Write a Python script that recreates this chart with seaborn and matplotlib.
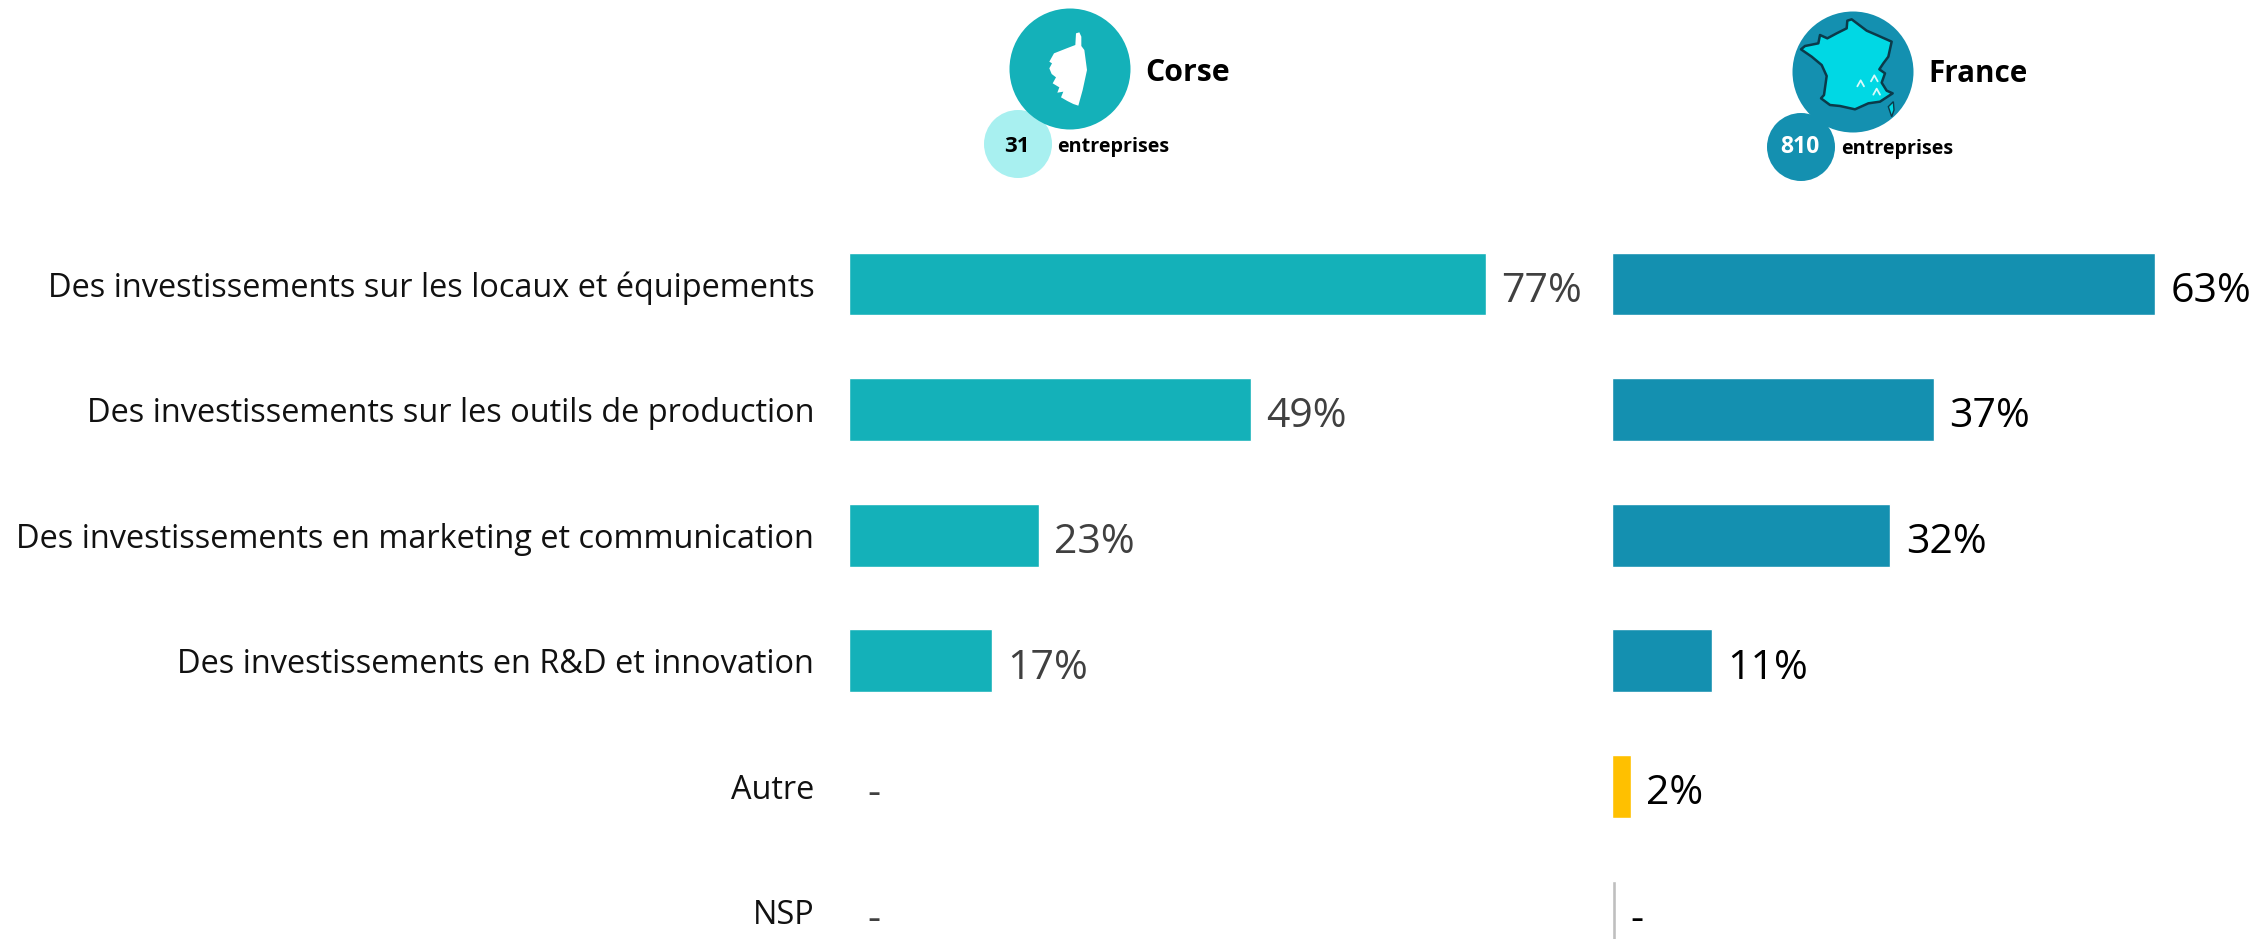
import numpy as np
import pandas as pd
import matplotlib
matplotlib.use("Agg")
import matplotlib.pyplot as plt
from matplotlib.patches import Circle, Polygon
import seaborn as sns

categories = ["Des investissements sur les locaux et équipements",
              "Des investissements sur les outils de production",
              "Des investissements en marketing et communication",
              "Des investissements en R&D et innovation",
              "Autre",
              "NSP"]
corse_values = [77, 48.6, 23, 17.3, np.nan, np.nan]
corse_labels = ["77%", "49%", "23%", "17%", "-", "-"]
france_values = [63, 37.3, 32.3, 11.6, 2.2, 0.45]
france_labels = ["63%", "37%", "32%", "11%", "2%", "-"]

TEAL = "#14B1B9"
BLUE = "#1490B0"
W, H = 2258, 939

sns.set_theme(style="white")
plt.rcParams["font.family"] = ["Open Sans", "DejaVu Sans"]

fig = plt.figure(figsize=(W / 100, H / 100), dpi=100, facecolor="white")


def px_axes(left, right, top, bottom):
    return fig.add_axes([left / W, 1 - bottom / H, (right - left) / W, (bottom - top) / H])


# une rangée toutes les 125.6 px, première au centre à y=284
row_h = 125.6
y0 = 284
top_ax = y0 - row_h / 2


def draw_bars(ax, values, labels, palette, txt_color, px_per_unit, width_px):
    df = pd.DataFrame({"cat": categories, "val": values})
    sns.barplot(data=df, x="val", y="cat", hue="cat", palette=palette, legend=False,
                width=0.5, saturation=1, ax=ax)
    ax.set_xlim(0, width_px / px_per_unit)
    ax.set_ylim((H - y0) / row_h, -0.5)
    ax.set_xlabel("")
    ax.set_ylabel("")
    ax.set_xticks([])
    sns.despine(ax=ax, left=True, bottom=True)
    ax.patch.set_alpha(0)
    for i, lab in enumerate(labels):
        v = values[i]
        if lab == "-":
            x = 0
            pad = 13
        else:
            x = v
            pad = 11
        ax.annotate(lab, (x, i), xytext=(pad, -5.5), textcoords="offset points",
                    va="center", ha="left", fontsize=29.5, color=txt_color, annotation_clip=False)


ax1 = px_axes(849, 1590, top_ax, H)
draw_bars(ax1, corse_values, corse_labels, [TEAL] * 6, "#404040", 8.27, 741)
ax1.tick_params(axis="y", length=0, pad=25)
ax1.set_yticks(range(6))
ax1.set_yticklabels(categories, fontsize=23.4, color="#111111")

ax2 = px_axes(1612, W, top_ax, H)
draw_bars(ax2, france_values, france_labels,
          [BLUE, BLUE, BLUE, BLUE, "#FFC000", "#BFBFBF"], "black", 8.62, W - 1612)
ax2.set_yticks([])

# entêtes : pastilles et cartes, dans un repère en pixels
deco = fig.add_axes([0, 0, 1, 1], zorder=5)
deco.set_xlim(0, W)
deco.set_ylim(H, 0)
deco.axis("off")
deco.patch.set_alpha(0)

deco.add_patch(Circle((1018, 144), 34, color="#A8F0F0", lw=0))
deco.add_patch(Circle((1070, 69), 60.5, color=TEAL, lw=0))
corse_shape = [(378, 100), (388, 97), (394, 110), (394, 138), (403, 150), (411, 210), (398, 270),
               (385, 317), (370, 312), (352, 303), (333, 292), (340, 275), (322, 278), (328, 262),
               (308, 250), (318, 232), (305, 222), (298, 205), (306, 190), (298, 185), (312, 160),
               (350, 145), (376, 135)]
deco.add_patch(Polygon([(950 + a / 3, b / 3) for a, b in corse_shape], color="white", lw=0))
deco.text(1145, 73, "Corse", fontsize=21.8, fontweight="bold", color="black", va="center")
deco.text(1017, 146, "31", fontsize=16, fontweight="bold", color="black", va="center", ha="center")
deco.text(1057, 147, "entreprises", fontsize=14.2, fontweight="bold", color="black", va="center")

deco.add_patch(Circle((1853, 72), 60.5, color=BLUE, lw=0))
deco.add_patch(Circle((1801, 147), 34, color=BLUE, lw=0))
france_shape = [(183, 148), (195, 138), (235, 130), (240, 105), (262, 115), (290, 100), (320, 85),
                (322, 62), (335, 58), (380, 92), (410, 105), (455, 125), (445, 170), (430, 190),
                (418, 208), (435, 220), (425, 248), (440, 272), (458, 280), (420, 305), (385, 310),
                (345, 328), (300, 318), (270, 315), (243, 295), (252, 285), (260, 228), (245, 195),
                (215, 170)]
deco.add_patch(Polygon([(1740 + a / 3, b / 3) for a, b in france_shape],
                       facecolor="#00D8E4", edgecolor="#0B3A4A", lw=1.8, joinstyle="round"))
ile = [(445, 320), (460, 305), (462, 330), (455, 350)]
deco.add_patch(Polygon([(1740 + a / 3, b / 3) for a, b in ile],
                       facecolor="#00D8E4", edgecolor="#0B3A4A", lw=1))
for cx, cy in [(362, 250), (403, 235), (410, 275)]:
    deco.plot([1740 + (cx - 10) / 3, 1740 + cx / 3, 1740 + (cx + 10) / 3],
              [(cy + 9) / 3, (cy - 9) / 3, (cy + 9) / 3], color="#D8FAFA", lw=1.3)
deco.text(1928, 74, "France", fontsize=21.3, fontweight="bold", color="black", va="center")
deco.text(1800, 147, "810", fontsize=16.5, fontweight="bold", color="white", va="center", ha="center")
deco.text(1841, 149, "entreprises", fontsize=14.2, fontweight="bold", color="black", va="center")

plt.savefig("out.png", dpi=100)
